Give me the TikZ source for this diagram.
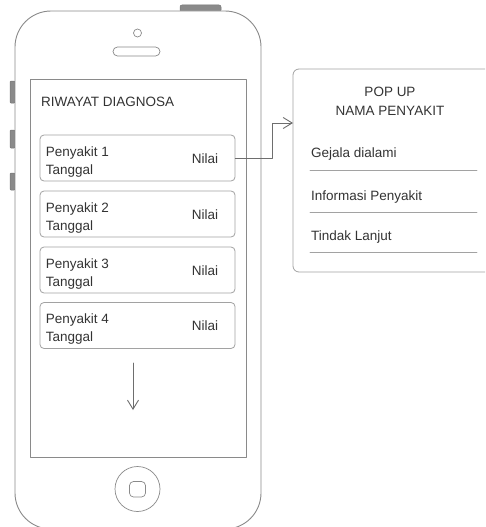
\documentclass[tikz,border=0pt]{standalone}
\usepackage{fontspec}
\setmainfont{Liberation Sans}
\usetikzlibrary{arrows.meta}

\definecolor{phGray}{HTML}{8A8A8A}
\definecolor{cardGray}{HTML}{A2A2A2}
\definecolor{txtGray}{HTML}{333333}
\definecolor{arrGray}{HTML}{6E6E6E}

\begin{document}
\begin{tikzpicture}[x=1pt, y=-1pt, line cap=round, line join=round]

% ---------------- styles ----------------
\tikzset{
  phoneBody/.style ={draw=phGray, line width=0.9pt},
  phoneKey/.style  ={draw=phGray!85!black, fill=phGray, line width=0.5pt},
  screenBox/.style ={draw=phGray, line width=0.9pt},
  cardBox/.style   ={draw=cardGray, line width=0.8pt, rounded corners=4pt,
                     minimum width=195pt, minimum height=46pt, inner sep=0pt},
  uiText/.style    ={text=txtGray, font=\fontsize{13.5}{16}\selectfont, inner sep=0pt},
  sepLine/.style   ={draw=cardGray, line width=0.8pt},
  linkArrow/.style ={draw=arrGray, line width=0.9pt, -{Straight Barb[length=9pt,width=11pt]}}
}

% ---------------- parameters ----------------
\def\PhL{15}    % phone left edge
\def\PhR{261}   % phone right edge
\def\PhT{11}    % phone top edge
\def\PhB{529}   % phone bottom edge (cut by the frame)
\def\PhRad{36}  % corner radius

% helper: one history card (name, centre y, number)
\newcommand{\RiwayatCard}[3]{%
  \node[cardBox] (#1) at (137.5,#2) {};
  \node[uiText, anchor=base west] (#1name) at ([xshift=6pt, yshift=2pt]#1.west) {Penyakit #3};
  \node[uiText, anchor=base west] (#1date) at ([xshift=6pt, yshift=-16pt]#1.west) {Tanggal};
  \node[uiText, anchor=base east] (#1score) at ([xshift=-17pt, yshift=-5pt]#1.east) {Nilai};
}

\useasboundingbox (0,0) rectangle (485,527);
\clip (0,0) rectangle (485,527);

% ---------------- phone body ----------------
\path[phoneKey, rounded corners=2pt] (180,5) rectangle (221,12);
\path[phoneKey, rounded corners=1pt] (10,81) rectangle (15,103);
\path[phoneKey, rounded corners=1pt] (10,130) rectangle (15,148);
\path[phoneKey, rounded corners=1pt] (10,173) rectangle (15,190);
\path[phoneBody, fill=white, rounded corners=\PhRad pt] (\PhL,\PhT) rectangle (\PhR,\PhB);

% camera + speaker
\draw[phoneBody, line width=0.7pt] (137.5,33) circle (4pt);
\draw[phoneBody, line width=0.7pt, rounded corners=4.5pt] (113,47) rectangle (160,56);

% screen
\draw[screenBox] (30,79) rectangle (246,457);

% home button
\draw[phoneBody, line width=0.7pt] (137.5,489) circle (22.5pt);
\draw[phoneBody, line width=0.7pt, rounded corners=4pt] (129.5,481.5) rectangle (145.5,497);

% ---------------- screen content ----------------
\node[uiText, anchor=base west] (title) at (41,106) {RIWAYAT DIAGNOSA};

\RiwayatCard{card1}{158}{1}
\RiwayatCard{card2}{214}{2}
\RiwayatCard{card3}{270}{3}
\RiwayatCard{card4}{325.5}{4}

% scroll hint
\coordinate (scrollTop) at (133,363);
\coordinate (scrollEnd) at (133,410);
\draw[linkArrow] (scrollTop) -- (scrollEnd);

% ---------------- pop up ----------------
\path[sepLine, rounded corners=6pt] (293,69) rectangle (500,272);
\node[uiText, anchor=base] (popTitle) at (390,96) {POP UP};
\node[uiText, anchor=base] (popName)  at (390,115) {NAMA PENYAKIT};
\node[uiText, anchor=base west] (popGejala) at (311,157) {Gejala dialami};
\node[uiText, anchor=base west] (popInfo)   at (311,200) {Informasi Penyakit};
\node[uiText, anchor=base west] (popLanjut) at (311,240) {Tindak Lanjut};
\draw[sepLine] (310,170) -- (477,170);
\draw[sepLine] (310,212) -- (477,212);
\draw[sepLine] (310,252) -- (477,252);

% link card -> pop up
\coordinate (popIn) at (293,123);
\draw[linkArrow] (card1.east) -- ++(37,0) |- (popIn);

\end{tikzpicture}
\end{document}
